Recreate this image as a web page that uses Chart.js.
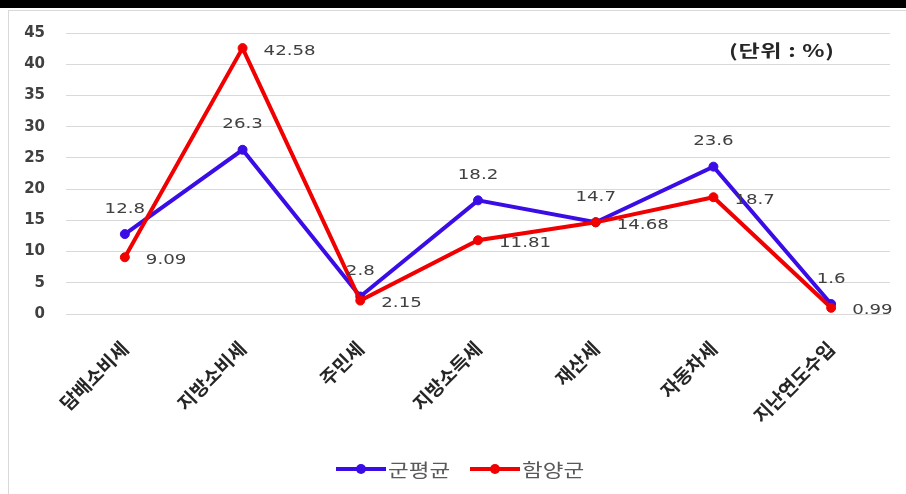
<!DOCTYPE html>
<html>
<head>
<meta charset="utf-8">
<script src="https://cdn.jsdelivr.net/npm/chart.js@4.4.1/dist/chart.umd.min.js"></script>
<style>
  html, body { margin: 0; padding: 0; background: #fff; }
  #wrap { position: relative; width: 906px; height: 494px; overflow: hidden; background: #fff; }
  #topbar { position: absolute; left: 0; top: 0; width: 906px; height: 8px; background: #000; }
  #frame { position: absolute; left: 8px; top: 10px; width: 910px; height: 500px; border: 1px solid #d9d9d9; box-sizing: border-box; }
  #c { position: absolute; left: 0; top: 0; }
  #unit { position: absolute; left: 729px; top: 37px; font: bold 17px "Noto Sans CJK KR", "DejaVu Sans", sans-serif; color: #262626; letter-spacing: 0.5px; white-space: nowrap; transform: scaleX(1.36); transform-origin: left center; }
  #legend { position: absolute; left: 336px; top: 456px; display: flex; align-items: center; font: 18px "Noto Sans CJK KR", sans-serif; color: #595959; white-space: nowrap; }
  .item { display: flex; align-items: center; margin-right: 32px; }
  .sw { position: relative; width: 50px; height: 4px; margin-right: 2px; }
  .sw i { position: absolute; left: 20px; top: -3px; width: 10px; height: 10px; border-radius: 50%; }
  .tx { display: inline-block; transform: scaleX(1.25); transform-origin: left center; }
</style>
</head>
<body>
<div id="wrap">
  <div id="topbar"></div>
  <div id="frame"></div>
  <canvas id="c" width="906" height="494"></canvas>
  <div id="unit">(단위 : %)</div>
  <div id="legend"></div>
</div>
<script>
const categories = ['담배소비세', '지방소비세', '주민세', '지방소득세', '재산세', '자동차세', '지난연도수입'];
const seriesNames = ['군평균', '함양군'];
const gunAvgValues = [12.8, 26.3, 2.8, 18.2, 14.7, 23.6, 1.6];
const hamyangValues = [9.09, 42.58, 2.15, 11.81, 14.68, 18.7, 0.99];
const yTickMin = 0, yTickMax = 45, yTickStep = 5;

const BLUE = '#3A0CE6';
const RED = '#F00000';

const labelPlugin = {
  id: 'valueLabels',
  afterDatasetsDraw(chart) {
    const ctx = chart.ctx;
    chart.data.datasets.forEach((ds, di) => {
      const meta = chart.getDatasetMeta(di);
      meta.data.forEach((pt, i) => {
        const txt = String(ds.data[i]);
        ctx.save();
        ctx.font = '14px "DejaVu Sans", sans-serif';
        ctx.fillStyle = '#404040';
        ctx.textBaseline = 'middle';
        if (di === 0) {
          ctx.translate(pt.x, pt.y - 25);
          ctx.textAlign = 'center';
        } else {
          ctx.translate(pt.x + 21, pt.y + 3);
          ctx.textAlign = 'left';
        }
        ctx.scale(1.3, 1);
        ctx.fillText(txt, 0, 0);
        ctx.restore();
      });
    });
  }
};

const chart = new Chart(document.getElementById('c'), {
  type: 'line',
  data: {
    labels: categories,
    datasets: [
      {
        label: seriesNames[0], data: gunAvgValues, borderColor: BLUE, backgroundColor: BLUE,
        borderWidth: 4, pointRadius: 4.5, pointHoverRadius: 4.5, pointBorderWidth: 1,
        pointBackgroundColor: BLUE, pointBorderColor: BLUE, tension: 0, order: 1
      },
      {
        label: seriesNames[1], data: hamyangValues, borderColor: RED, backgroundColor: RED,
        borderWidth: 4, pointRadius: 4.5, pointHoverRadius: 4.5, pointBorderWidth: 1,
        pointBackgroundColor: RED, pointBorderColor: RED, tension: 0, order: 0
      }
    ]
  },
  options: {
    responsive: false,
    animation: false,
    layout: { padding: { left: 8, right: 16, top: 33, bottom: 0 } },
    plugins: { legend: { display: false }, tooltip: { enabled: false } },
    scales: {
      x: {
        type: 'category',
        offset: true,
        grid: { display: false, drawTicks: false },
        border: { display: false },
        ticks: {
          autoSkip: false, minRotation: 45, maxRotation: 45, padding: 23,
          color: '#262626', font: { family: '"Noto Sans CJK KR", sans-serif', size: 19, weight: 'bold' }
        },
        afterFit(scale) { scale.height = 180; }
      },
      y: {
        min: yTickMin, max: yTickMax,
        grid: { color: '#d9d9d9', lineWidth: 1, drawTicks: false },
        border: { display: false },
        ticks: {
          stepSize: yTickStep, padding: 21, color: '#404040',
          font: { family: '"DejaVu Sans", sans-serif', size: 15, weight: 'bold' }
        },
        afterFit(scale) { scale.width = 58; }
      }
    }
  },
  plugins: [labelPlugin]
});

// HTML legend
const legend = document.getElementById('legend');
[[seriesNames[0], BLUE], [seriesNames[1], RED]].forEach(([name, col]) => {
  const it = document.createElement('div');
  it.className = 'item';
  const sw = document.createElement('span');
  sw.className = 'sw';
  sw.style.background = col;
  const dot = document.createElement('i');
  dot.style.background = col;
  sw.appendChild(dot);
  const t = document.createElement('span');
  t.className = 'tx';
  t.textContent = name;
  it.appendChild(sw); it.appendChild(t);
  legend.appendChild(it);
});
</script>
</body>
</html>
